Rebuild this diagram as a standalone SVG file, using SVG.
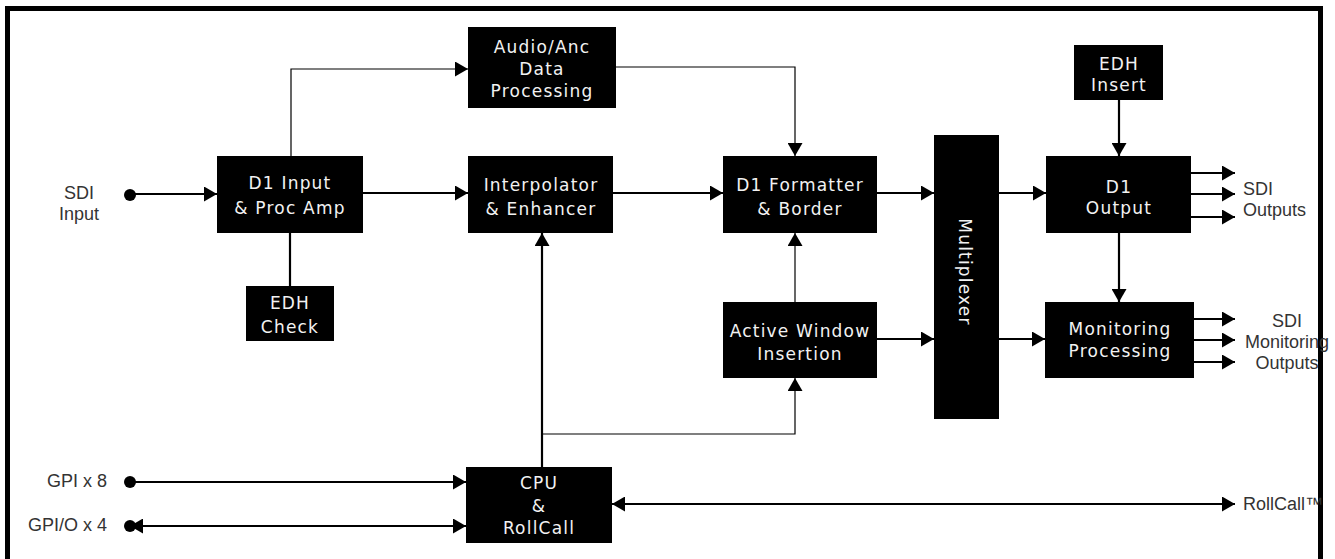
<svg xmlns="http://www.w3.org/2000/svg" width="1335" height="559" viewBox="0 0 1335 559">
<style>
.box{fill:#000}
.bt{font-family:"DejaVu Sans",sans-serif;font-size:17px;fill:#f2f2f2;text-anchor:middle;letter-spacing:1.2px}
.lb{font-family:"Liberation Sans",Arial,sans-serif;font-size:18px;fill:#333}
.thick{stroke:#000;stroke-width:2.2;fill:none}
.thin{stroke:#000;stroke-width:1.2;fill:none}
.ar{marker-end:url(#ah)}
</style>
<defs>
<marker id="ah" markerUnits="userSpaceOnUse" markerWidth="14" markerHeight="15" refX="13" refY="7.5" orient="auto-start-reverse">
<path d="M0,0 L13,7.5 L0,15 z" fill="#000"/>
</marker>
</defs>
<rect x="7.5" y="8.5" width="1313" height="560" fill="#fff" stroke="#000" stroke-width="5"/>

<g id="connectors">
<circle cx="130" cy="195" r="6" fill="#000"/>
<line class="thick ar" x1="130" y1="194" x2="217" y2="194"/>
<polyline class="thin ar" points="291,156 291,69 468,69"/>
<line class="thick" x1="290" y1="233" x2="290" y2="286"/>
<line class="thick ar" x1="363" y1="193" x2="468" y2="193"/>
<line class="thick ar" x1="613" y1="193" x2="723" y2="193"/>
<polyline class="thin ar" points="616,67 795,67 795,156"/>
<line class="thin ar" x1="795" y1="302" x2="795" y2="233"/>
<line class="thick ar" x1="877" y1="193" x2="934" y2="193"/>
<line class="thick ar" x1="877" y1="339" x2="934" y2="339"/>
<line class="thick ar" x1="542" y1="467" x2="542" y2="233"/>
<polyline class="thin ar" points="542,434 795,434 795,378"/>
<line class="thick ar" x1="999" y1="193" x2="1046" y2="193"/>
<line class="thick ar" x1="999" y1="339" x2="1045" y2="339"/>
<line class="thick ar" x1="1119" y1="100" x2="1119" y2="156"/>
<line class="thick ar" x1="1119" y1="233" x2="1119" y2="302"/>
<line class="thick ar" x1="1191" y1="173" x2="1235" y2="173"/>
<line class="thick ar" x1="1191" y1="194" x2="1235" y2="194"/>
<line class="thick ar" x1="1191" y1="217" x2="1235" y2="217"/>
<line class="thick ar" x1="1194" y1="319" x2="1235" y2="319"/>
<line class="thick ar" x1="1194" y1="340" x2="1235" y2="340"/>
<line class="thick ar" x1="1194" y1="362" x2="1235" y2="362"/>
<circle cx="130" cy="482" r="6" fill="#000"/>
<line class="thick ar" x1="130" y1="482" x2="466" y2="482"/>
<circle cx="130" cy="526" r="6" fill="#000"/>
<line class="thick ar" x1="130" y1="526" x2="466" y2="526" marker-start="url(#ah)"/>
<line class="thick ar" x1="612" y1="504" x2="1235" y2="504" marker-start="url(#ah)"/>
</g>

<g id="d1input"><rect class="box" x="217" y="156" width="146" height="77"/>
<text class="bt" x="290" y="189">D1 Input</text><text class="bt" x="290" y="214">&amp; Proc Amp</text></g>
<g id="edhcheck"><rect class="box" x="246" y="286" width="88" height="55"/>
<text class="bt" x="290" y="309">EDH</text><text class="bt" x="290" y="333">Check</text></g>
<g id="audio"><rect class="box" x="468" y="27" width="148" height="81"/>
<text class="bt" x="542" y="53">Audio/Anc</text><text class="bt" x="542" y="75">Data</text><text class="bt" x="542" y="97">Processing</text></g>
<g id="interp"><rect class="box" x="468" y="156" width="145" height="77"/>
<text class="bt" x="541" y="191">Interpolator</text><text class="bt" x="541" y="215">&amp; Enhancer</text></g>
<g id="formatter"><rect class="box" x="723" y="156" width="154" height="77"/>
<text class="bt" x="800" y="191">D1 Formatter</text><text class="bt" x="800" y="215">&amp; Border</text></g>
<g id="activewin"><rect class="box" x="723" y="302" width="154" height="76"/>
<text class="bt" x="800" y="337">Active Window</text><text class="bt" x="800" y="360">Insertion</text></g>
<g id="mux"><rect class="box" x="934" y="135" width="65" height="284"/>
<text class="bt" transform="translate(959,272) rotate(90)" x="0" y="0">Multiplexer</text></g>
<g id="edhinsert"><rect class="box" x="1074" y="45" width="89" height="55"/>
<text class="bt" x="1119" y="70">EDH</text><text class="bt" x="1119" y="91">Insert</text></g>
<g id="d1output"><rect class="box" x="1046" y="156" width="145" height="77"/>
<text class="bt" x="1119" y="193">D1</text><text class="bt" x="1119" y="214">Output</text></g>
<g id="monitoring"><rect class="box" x="1045" y="302" width="149" height="76"/>
<text class="bt" x="1120" y="335">Monitoring</text><text class="bt" x="1120" y="357">Processing</text></g>
<g id="cpu"><rect class="box" x="466" y="467" width="146" height="76"/>
<text class="bt" x="539" y="489">CPU</text><text class="bt" x="539" y="512">&amp;</text><text class="bt" x="539" y="534">RollCall</text></g>

<g id="labels">
<text class="lb" x="79" y="199" text-anchor="middle">SDI</text>
<text class="lb" x="79" y="220" text-anchor="middle">Input</text>
<text class="lb" x="1243" y="195">SDI</text>
<text class="lb" x="1243" y="216">Outputs</text>
<text class="lb" x="1287" y="327" text-anchor="middle">SDI</text>
<text class="lb" x="1287" y="348" text-anchor="middle">Monitoring</text>
<text class="lb" x="1287" y="369" text-anchor="middle">Outputs</text>
<text class="lb" x="107" y="487" text-anchor="end">GPI x 8</text>
<text class="lb" x="107" y="531" text-anchor="end">GPI/O x 4</text>
<text class="lb" x="1243" y="510">RollCall™</text>
</g>
</svg>
